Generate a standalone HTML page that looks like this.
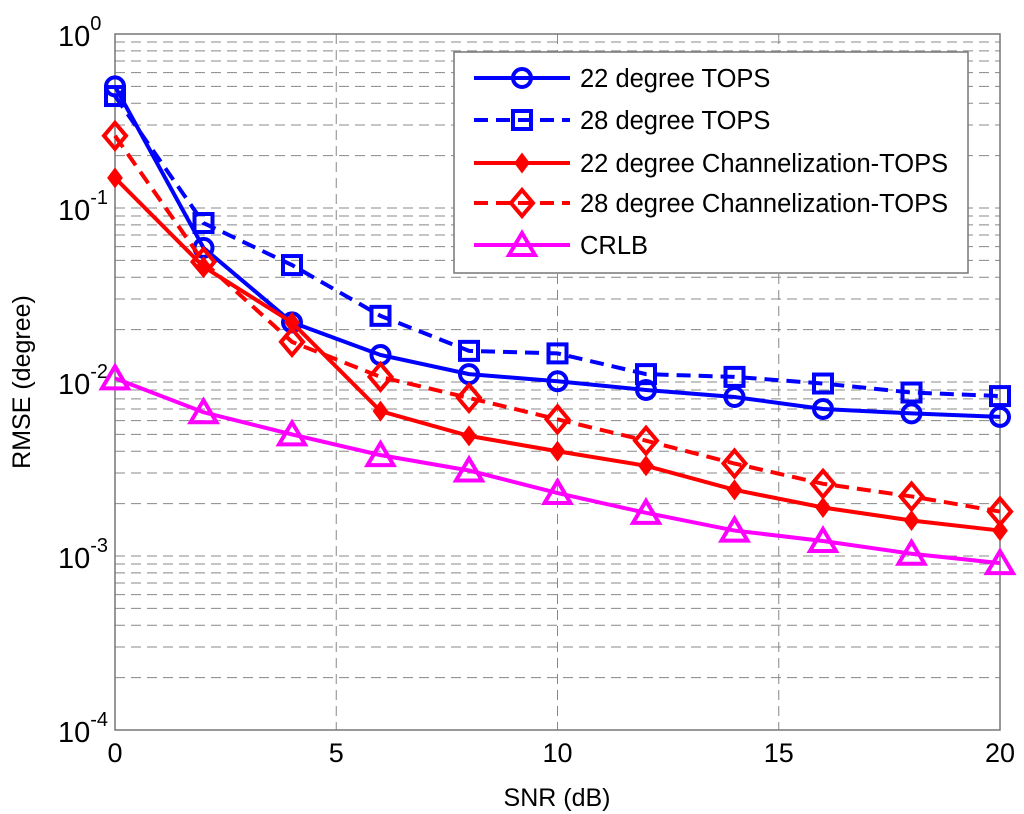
<!DOCTYPE html>
<html><head><meta charset="utf-8"><style>
body{margin:0;background:#fff;}
svg{display:block;font-family:"Liberation Sans",Arial,sans-serif;}
</style></head><body>
<svg id="chart" width="1024" height="814" xmlns="http://www.w3.org/2000/svg">
<g id="grid"></g>
<g id="axes"></g>
<g id="series"></g>
<g id="legend"></g>
<text x="557" y="806" font-size="25" text-anchor="middle">SNR (dB)</text>
<text x="30" y="382" font-size="25" text-anchor="middle" transform="rotate(-90 30 382)">RMSE (degree)</text>
</svg>
<script>
const snr=[0,2,4,6,8,10,12,14,16,18,20];
const tops22=[0.50,0.059,0.022,0.0143,0.0111,0.0101,0.009,0.0082,0.007,0.0066,0.0063];
const tops28=[0.44,0.082,0.047,0.024,0.0151,0.0146,0.0111,0.0107,0.0098,0.0087,0.0083];
const chan22=[0.149,0.046,0.022,0.0068,0.0049,0.0040,0.0033,0.0024,0.0019,0.0016,0.0014];
const chan28=[0.26,0.049,0.017,0.0107,0.0081,0.0061,0.0046,0.0034,0.0026,0.0022,0.0018];
const crlb=[0.0105,0.0067,0.0050,0.0038,0.0031,0.0023,0.00177,0.0014,0.00122,0.00103,0.00091];
const xTicks=[0,5,10,15,20];
const yExps=[0,-1,-2,-3,-4];
const names=["22 degree TOPS","28 degree TOPS","22 degree Channelization-TOPS","28 degree Channelization-TOPS","CRLB"];
const NS="http://www.w3.org/2000/svg";
const L=115,R=1000,T=34,B=730;
const X=v=>L+(v-0)/20*(R-L);
const Y=v=>T+(0-Math.log10(v))/4*(B-T);
function mk(p,tag,a){const e=document.createElementNS(NS,tag);for(const k in a)e.setAttribute(k,a[k]);p.appendChild(e);return e;}
const grid=document.getElementById('grid'),axes=document.getElementById('axes'),ser=document.getElementById('series'),leg=document.getElementById('legend');
for(let e=-4;e<0;e++){for(let m=1;m<10;m++){const y=Y(m*Math.pow(10,e));if(m===1&&e===-4)continue;
const g=mk(grid,'line',{x1:L,x2:R,y1:y,y2:y,stroke:'#888','stroke-width':1,'stroke-dasharray':'10,6'});
}}
xTicks.forEach(t=>{if(t===0||t===20)return;const g=mk(grid,'line',{x1:X(t),x2:X(t),y1:T,y2:B,stroke:'#888','stroke-width':1,'stroke-dasharray':'10,6'});
});
const fr=mk(axes,'rect',{x:L,y:T,width:R-L,height:B-T,fill:'none',stroke:'#777','stroke-width':1.5});

xTicks.forEach(t=>{const tx=mk(axes,'text',{x:X(t),y:762,'font-size':27,'text-anchor':'middle'});tx.textContent=t;
});
yExps.forEach(e=>{const y=Y(Math.pow(10,e));const tx=mk(axes,'text',{x:58,y:y+12,'font-size':29});

tx.appendChild(document.createTextNode('10'));const s=mk(tx,'tspan',{dy:-16,'font-size':20});s.textContent=String(e);});
const styles=[
{d:tops22,c:'#0000ff',dash:'',m:'circle'},
{d:tops28,c:'#0000ff',dash:'14,8',m:'square'},
{d:chan22,c:'#ff0000',dash:'',m:'dot'},
{d:chan28,c:'#ff0000',dash:'14,8',m:'diamond'},
{d:crlb,c:'#ff00ff',dash:'',m:'tri'}];
function marker(p,m,x,y,c){let e;
if(m==='circle')e=mk(p,'circle',{cx:x,cy:y,r:9,fill:'none',stroke:c,'stroke-width':4});
else if(m==='square')e=mk(p,'rect',{x:x-9,y:y-9,width:18,height:18,fill:'none',stroke:c,'stroke-width':4});
else if(m==='dot')e=mk(p,'polygon',{points:`${x},${y-8} ${x+6},${y} ${x},${y+8} ${x-6},${y}`,fill:c,stroke:c,'stroke-width':3});
else if(m==='diamond')e=mk(p,'polygon',{points:`${x},${y-13} ${x+11},${y} ${x},${y+13} ${x-11},${y}`,fill:'none',stroke:c,'stroke-width':4});
else e=mk(p,'polygon',{points:`${x},${y-12} ${x+13},${y+10} ${x-13},${y+10}`,fill:'none',stroke:c,'stroke-width':4});
return e;}
styles.forEach((s,i)=>{const pts=snr.map((v,j)=>X(v)+','+Y(s.d[j])).join(' ');
const pl=mk(ser,'polyline',{points:pts,fill:'none',stroke:s.c,'stroke-width':4,'stroke-dasharray':s.dash});

snr.forEach((v,j)=>{const e=marker(ser,s.m,X(v),Y(s.d[j]),s.c);});});
const lb=mk(leg,'rect',{x:454,y:52,width:514,height:221,fill:'#fff',stroke:'#777','stroke-width':1.5});

const ly=[78,120,163,203,245];
styles.forEach((s,i)=>{const g=mk(leg,'g',{});
mk(g,'line',{x1:474,x2:570,y1:ly[i],y2:ly[i],stroke:s.c,'stroke-width':4,'stroke-dasharray':s.dash});
marker(g,s.m,522,ly[i],s.c);
const t=mk(g,'text',{x:580,y:ly[i]+9,'font-size':25.5});t.textContent=names[i];});
</script>
</body></html>
